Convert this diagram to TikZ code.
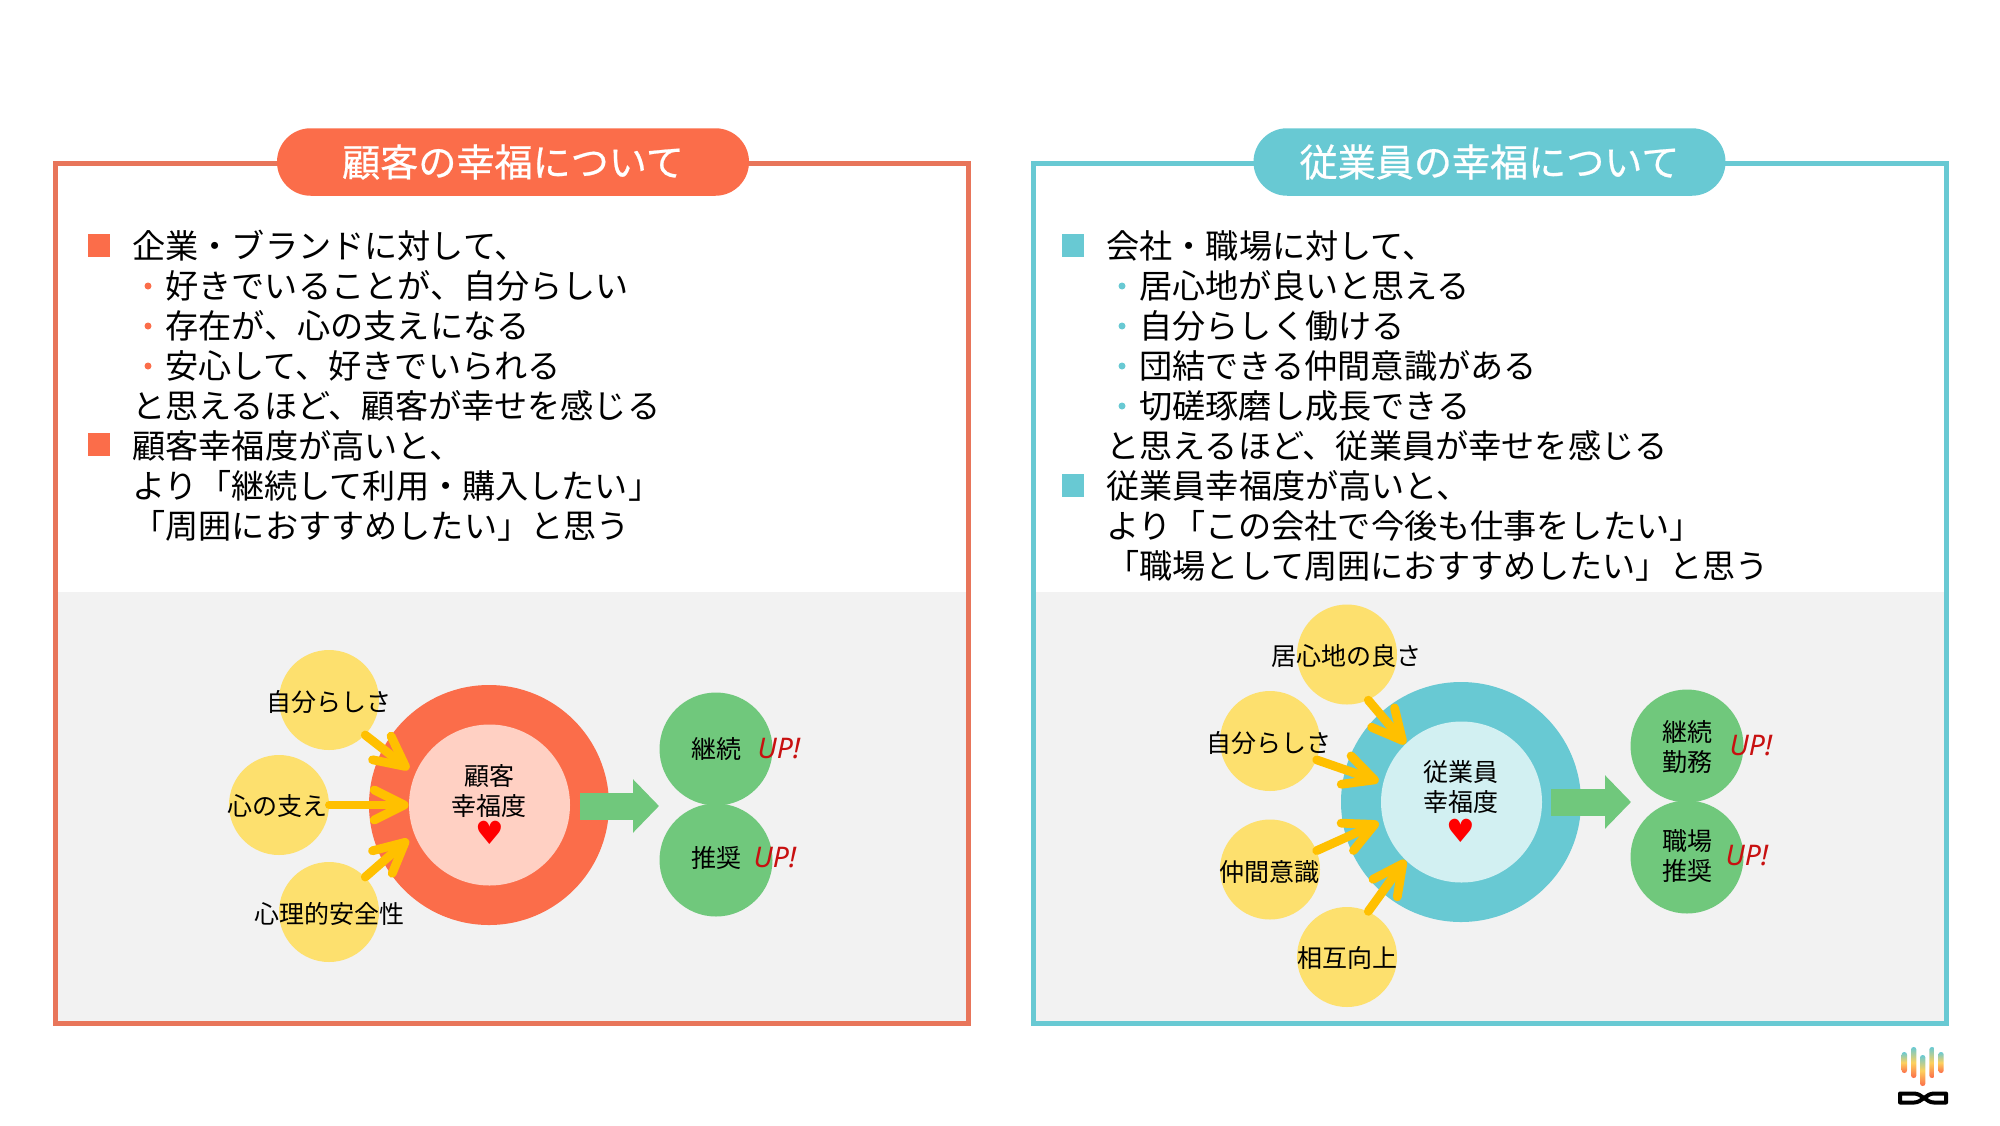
\documentclass[tikz,border=0pt]{standalone}
\usepackage{fontspec}
\setmainfont{Noto Sans CJK JP}
\newfontfamily\titlefnt[FakeBold=0.6]{Noto Sans CJK JP}
\newfontfamily\upfnt{Noto Sans}
\newfontfamily\heartfnt{DejaVu Sans}
\usetikzlibrary{arrows.meta}
\definecolor{frameL}{HTML}{E8755A}
\definecolor{frameR}{HTML}{68C9D3}
\definecolor{ringL}{HTML}{FB6D4A}
\definecolor{ringR}{HTML}{68C9D3}
\definecolor{coreL}{HTML}{FFD0C3}
\definecolor{coreR}{HTML}{D2F0F2}
\definecolor{panelgray}{HTML}{F2F2F2}
\definecolor{yel}{HTML}{FDE06E}
\definecolor{amber}{HTML}{FFC000}
\definecolor{grn}{HTML}{70C87C}
\definecolor{upred}{HTML}{C81010}
\tikzset{
  x=0.5pt,y=-0.5pt,
  framebox/.style={line width=2.5pt,fill=none},
  pill/.style={rectangle,rounded corners=16.8pt,minimum width=236pt,minimum height=33.75pt,inner sep=0pt,text=white,font=\fontsize{19.05pt}{22pt}\titlefnt},
  bodytext/.style={anchor=base west,inner sep=0pt,font=\fontsize{16.58pt}{20pt}\selectfont},
  sq/.style={rectangle,minimum width=11pt,minimum height=11.5pt,inner sep=0pt},
  sub/.style={circle,minimum size=3.5pt,inner sep=0pt},
  disc/.style={circle,fill=yel,minimum size=50pt,inner sep=0pt},
  ring/.style={circle,minimum size=120pt,inner sep=0pt},
  core/.style={circle,minimum size=80.5pt,inner sep=0pt},
  aim/.style={circle,minimum size=#1,inner sep=0pt},
  gdisc/.style={circle,fill=grn,minimum size=56.5pt,inner sep=0pt},
  lab/.style={inner sep=0pt,align=center,font=\fontsize{12.5pt}{15pt}\selectfont},
  uplab/.style={inner sep=0pt,text=upred,font=\fontsize{14.2pt}{15pt}\upfnt\itshape},
  heart/.style={inner sep=0pt,text=red,font=\fontsize{16pt}{15pt}\heartfnt},
  feed/.style={amber,line width=4.4pt,line cap=round,-{Straight Barb[length=15pt,width=15pt,round]}},
  bigarrow/.style={grn,line width=13.5pt,-{Triangle[length=13pt,width=26pt]}},
}
\begin{document}
\begin{tikzpicture}
\useasboundingbox (0,0) rectangle (2000,1125);
% panels
\fill[panelgray] (55,592) rectangle (968,1021);
\fill[panelgray] (1033,592) rectangle (1946,1021);
\draw[framebox,frameL] (55,163) rectangle (968,1023);
\draw[framebox,frameR] (1033,163) rectangle (1946,1023);
\node[pill,fill=ringL] (pillL) at (513,162) {顧客の幸福について};
\node[pill,fill=ringR] (pillR) at (1489.5,162) {従業員の幸福について};
% left text
\node[sq,fill=ringL] (sqL1) at (99,245) {};
\node[sq,fill=ringL] (sqL2) at (99,444) {};
\node[sub,fill=ringL] (bL1) at (148,286) {};
\node[sub,fill=ringL] (bL2) at (148,326) {};
\node[sub,fill=ringL] (bL3) at (148,366) {};
\node[bodytext] (tL1) at (132,258.5) {企業・ブランドに対して、};
\node[bodytext] (tL2) at (165,298.5) {好きでいることが、自分らしい};
\node[bodytext] (tL3) at (165,338.5) {存在が、心の支えになる};
\node[bodytext] (tL4) at (165,378.5) {安心して、好きでいられる};
\node[bodytext] (tL5) at (132,418.5) {と思えるほど、顧客が幸せを感じる};
\node[bodytext] (tL6) at (132,458.5) {顧客幸福度が高いと、};
\node[bodytext] (tL7) at (132,498.5) {より「継続して利用・購入したい」};
\node[bodytext] (tL8) at (132,538.5) {「周囲におすすめしたい」と思う};
% right text
\node[sq,fill=ringR] (sqR1) at (1073,245) {};
\node[sq,fill=ringR] (sqR2) at (1073,485) {};
\node[sub,fill=ringR] (bR1) at (1122,286) {};
\node[sub,fill=ringR] (bR2) at (1122,326) {};
\node[sub,fill=ringR] (bR3) at (1122,366) {};
\node[sub,fill=ringR] (bR4) at (1122,406) {};
\node[bodytext] (tR1) at (1106,258.5) {会社・職場に対して、};
\node[bodytext] (tR2) at (1139,298.5) {居心地が良いと思える};
\node[bodytext] (tR3) at (1139,338.5) {自分らしく働ける};
\node[bodytext] (tR4) at (1139,378.5) {団結できる仲間意識がある};
\node[bodytext] (tR5) at (1139,418.5) {切磋琢磨し成長できる};
\node[bodytext] (tR6) at (1106,458.5) {と思えるほど、従業員が幸せを感じる};
\node[bodytext] (tR7) at (1106,498.5) {従業員幸福度が高いと、};
\node[bodytext] (tR8) at (1106,538.5) {より「この会社で今後も仕事をしたい」};
\node[bodytext] (tR9) at (1106,578.5) {「職場として周囲におすすめしたい」と思う};
% left diagram
\node[ring,fill=ringL] (ringA) at (489,805) {};
\node[core,fill=coreL] (coreA) at (489.5,805) {};
\node[aim=87.8pt] (aimA) at (489.5,805) {};
\node[disc] (a1) at (329,700) {};
\node[disc] (a2) at (279,805) {};
\node[disc] (a3) at (329,912) {};
\node[gdisc] (g1) at (716,749) {};
\node[gdisc] (g2) at (716,860) {};
\draw[feed] (a1.-44) -- (aimA.156.5);
\draw[feed] (a2.0) -- (coreA.180);
\draw[feed] (a3.44) -- (aimA.203.5);
\coordinate (gsA) at (580,806);
\coordinate (geA) at (659,806);
\draw[bigarrow] (gsA) -- (geA);
\node[lab] (la1) at (329,702) {自分らしさ};
\node[lab] (la2) at (277,806) {心の支え};
\node[lab] (la3) at (329,914) {心理的安全性};
\node[lab] (lcA) at (489,791) {顧客\\幸福度};
\node[heart] (hA) at (489.5,833) {♥};
\node[lab] (lg1) at (716,749) {継続};
\node[lab] (lg2) at (716,858) {推奨};
\node[uplab] (up1) at (779,749) {UP!};
\node[uplab] (up2) at (775,858) {UP!};
% right diagram
\node[ring,fill=ringR] (ringB) at (1461,802) {};
\node[core,fill=coreR] (coreB) at (1461.5,802) {};
\node[aim=85pt] (aimB) at (1461.5,802) {};
\node[disc] (b1) at (1347,654.5) {};
\node[disc] (b2) at (1270,741) {};
\node[disc] (b3) at (1270,869.5) {};
\node[disc] (b4) at (1347,957) {};
\node[gdisc] (g3) at (1687,746) {};
\node[gdisc] (g4) at (1687,857) {};
\draw[feed] (b1.-65) -- (coreB.134);
\draw[feed] (b2.-22) -- (aimB.166);
\draw[feed] (b3.22) -- (aimB.194.5);
\draw[feed] (b4.65) -- (coreB.226);
\coordinate (gsB) at (1551,802);
\coordinate (geB) at (1631,802);
\draw[bigarrow] (gsB) -- (geB);
\node[lab] (lb1) at (1346,656) {居心地の良さ};
\node[lab] (lb2) at (1269,743) {自分らしさ};
\node[lab] (lb3) at (1269,872) {仲間意識};
\node[lab] (lb4) at (1347,958) {相互向上};
\node[lab] (lcB) at (1461,787) {従業員\\幸福度};
\node[heart] (hB) at (1461,831) {♥};
\node[lab] (lg3) at (1687,747) {継続\\勤務};
\node[lab] (lg4) at (1687,856) {職場\\推奨};
\node[uplab] (up3) at (1751,746) {UP!};
\node[uplab] (up4) at (1747,856) {UP!};
% logo
\foreach \lx/\ya/\yb in {1904.3/1052/1073,1913.7/1047/1078,1922.7/1055/1086,1932/1047/1078,1941/1052/1073}{
  \shade[rounded corners=1.3pt,top color=frameR,bottom color=ringL,middle color=yel!85!orange] (\lx-2.7,\ya) rectangle (\lx+2.7,\yb);
}
\draw[line width=2pt,black,line join=round] (1900,1093.5) -- (1914,1093.5) .. controls (1922,1093.5) and (1926,1102.5) .. (1934,1102.5) -- (1946,1102.5) -- (1946,1093.5) -- (1934,1093.5) .. controls (1926,1093.5) and (1922,1102.5) .. (1914,1102.5) -- (1900,1102.5) -- cycle;
\end{tikzpicture}
\end{document}
